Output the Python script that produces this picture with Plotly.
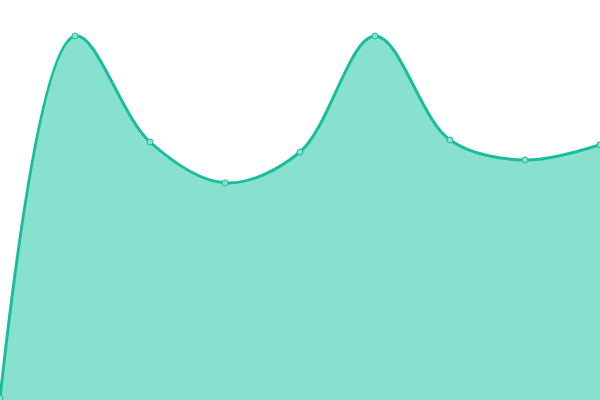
import plotly.graph_objects as go

# values (axis 0..100, no visible axes)
steps = [0, 1, 2, 3, 4, 5, 6, 7, 8]
values = [0.5, 91, 64.5, 54.3, 62, 91, 65, 60, 63.8]

LINE = '#1abc9c'
FILL = '#88e0cf'

fig = go.Figure()
fig.add_trace(go.Scatter(x=steps,
                         y=values,
                         mode='lines+markers',
                         fill='tozeroy',
                         fillcolor=FILL,
                         line=dict(color=LINE, width=3, shape='spline', smoothing=1.0),
                         marker=dict(size=6, color=FILL,
                                     line=dict(color=LINE, width=1)),
                         hoverinfo='skip',
                         ))

fig.update_layout(width=600, height=400,
                  margin=dict(l=0, r=0, t=0, b=0),
                  paper_bgcolor='white',
                  plot_bgcolor='white',
                  showlegend=False,
                  xaxis=dict(range=[0, 8], visible=False, fixedrange=True),
                  yaxis=dict(range=[0, 100], visible=False, fixedrange=True))

# the page has a default 8px body margin, drop it so the chart fills the window
fig.write_html("out.html", config={'displayModeBar': False},
               post_script="document.body.style.margin='0';")
